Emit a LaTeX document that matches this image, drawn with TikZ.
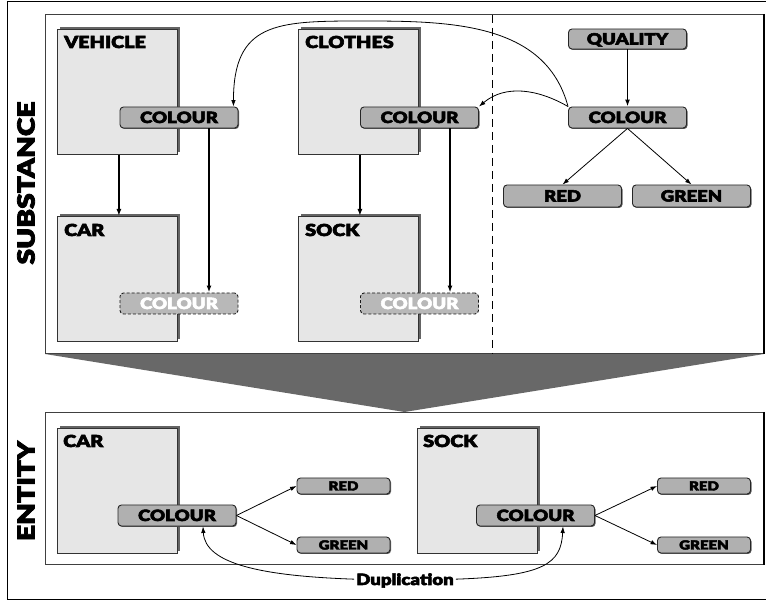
\documentclass[tikz,border=0pt]{standalone}
\usepackage{fontspec}
\usetikzlibrary{arrows.meta,shadows,backgrounds}
\IfFontExistsTF{Lato Black}
  {\newfontfamily\heavy{Lato Black}[FakeStretch=1.2,RawFeature={embolden=3.5}]}
  {\newfontfamily\heavy{Lato}[FakeStretch=1.2,UprightFont={* Bold},
     RawFeature={embolden=4.5}]}
\newcommand\tagfont{\heavy\fontsize{15.5pt}{16pt}\selectfont}
\newcommand\smalltagfont{\heavy\fontsize{12.5pt}{13pt}\selectfont}
\newcommand\titlefont{\heavy\fontsize{16.5pt}{17pt}\selectfont}
\newcommand\sidefont{\heavy\fontsize{23.5pt}{24pt}\selectfont}
\newcommand\dupfont{\heavy\fontsize{15.5pt}{16pt}\selectfont}
\definecolor{boxfill}{RGB}{230,230,230}
\definecolor{tagfill}{RGB}{176,176,176}
\definecolor{ghostfill}{RGB}{184,184,184}
\definecolor{shade}{RGB}{100,100,100}
\definecolor{funnel}{RGB}{104,104,104}
\begin{document}
\begin{tikzpicture}[x=1pt,y=1pt,
  panel/.style={draw=black!75, line width=1pt, inner sep=0pt, anchor=south west},
  classbox/.style={draw=black!80, line width=0.8pt, fill=boxfill, inner sep=0pt,
    minimum width=120pt, minimum height=125pt, anchor=north west,
    drop shadow={shadow xshift=3pt, shadow yshift=2pt, fill=shade, opacity=1}},
  boxlabel/.style={font=\titlefont, anchor=base west, inner sep=0pt},
  tagbase/.style={rounded corners=3.5pt, line width=0.9pt, inner sep=0pt,
    minimum width=118pt, minimum height=21pt, font=\tagfont,
    text height=11pt, text depth=0pt},
  tag/.style={tagbase, draw=black!85, fill=tagfill,
    drop shadow={shadow xshift=1pt, shadow yshift=-1pt, fill=black!65, opacity=1}},
  ghost/.style={tagbase, draw=black!90, fill=ghostfill, text=white,
    dash pattern=on 3pt off 2pt},
  smalltag/.style={tag, minimum width=93pt, minimum height=16pt,
    font=\smalltagfont, text height=9pt},
  bold arrow/.style={line width=1.7pt, -{Latex[length=7pt,width=5pt]}},
  thin arrow/.style={line width=0.8pt, -{Latex[length=6.5pt,width=4.5pt]}},
]
\useasboundingbox (0,0) rectangle (766,602);

% outer frame (its right side lies beyond the page)
\draw[line width=1pt] (766,600) -- (7,600) -- (7,2) -- (766,2);

% the two panels
\node[panel, minimum width=718pt, minimum height=339pt] (subst) at (45,248) {};
\node[panel, minimum width=718pt, minimum height=152pt] (ent) at (45,37) {};
\draw[line width=1.6pt] (subst.north east) -- (subst.south east);
\draw[line width=1.6pt] (ent.north east) -- (ent.south east);

% funnel from the substance panel down to the entity panel
\begin{scope}[on background layer]
  \fill[funnel] (subst.south west) -- (subst.south east) -- (ent.north) -- cycle;
\end{scope}

% side titles
\node[rotate=90, font=\sidefont] (substT) at (26,419) {SUBSTANCE};
\node[rotate=90, font=\sidefont] (entT) at (26,111) {ENTITY};

% divider between classes and qualities
\draw[line width=0.8pt, dash pattern=on 8pt off 5pt] (492,587) -- (492,248);

% class boxes of the substance panel
\node[classbox] (veh) at (57,573) {};
\node[boxlabel] (vehL) at ([shift={(7,-19)}]veh.north west) {VEHICLE};
\node[classbox] (clo) at (298,573) {};
\node[boxlabel] (cloL) at ([shift={(7,-19)}]clo.north west) {CLOTHES};
\node[classbox] (car) at (57,386) {};
\node[boxlabel] (carL) at ([shift={(7,-20)}]car.north west) {CAR};
\node[classbox] (sock) at (298,386) {};
\node[boxlabel] (sockL) at ([shift={(7,-20)}]sock.north west) {SOCK};

% class boxes of the entity panel
\node[classbox] (ecar) at (57,174) {};
\node[boxlabel] (ecarL) at ([shift={(6,-19)}]ecar.north west) {CAR};
\node[classbox] (esock) at (417,174) {};
\node[boxlabel] (esockL) at ([shift={(6,-19)}]esock.north west) {SOCK};

% attribute tags
\node[tag] (vcol) at (179,484.5) {COLOUR};
\node[tag] (ccol) at (419.5,484.5) {COLOUR};
\node[tag, minimum height=20pt] (qual) at (627.5,563) {QUALITY};
\node[tag] (qcol) at (627.5,484.5) {COLOUR};
\node[tag, minimum height=22pt] (red) at (562.5,406) {RED};
\node[tag, minimum height=22pt] (green) at (691.5,406) {GREEN};
\node[ghost] (vgh) at (179,298.5) {COLOUR};
\node[ghost] (cgh) at (419.5,298.5) {COLOUR};

\node[tag] (ecol) at (177,86.5) {COLOUR};
\node[smalltag] (ered) at (343.5,116) {RED};
\node[smalltag] (egreen) at (343.5,57) {GREEN};
\node[tag] (scol) at (535.5,86.5) {COLOUR};
\node[smalltag] (sred) at (704,116) {RED};
\node[smalltag] (sgreen) at (704,57) {GREEN};

\node[font=\dupfont, anchor=base, inner sep=2pt, text depth=0pt] (dup) at (405,17) {Duplication};

% inheritance
\draw[bold arrow] ([xshift=1.5pt]veh.south) -- ([xshift=1.5pt]car.north);
\draw[bold arrow] ([xshift=1.5pt]clo.south) -- ([xshift=1.5pt]sock.north);
\draw[bold arrow] ([xshift=30pt]vcol.south) -- ([xshift=30pt]vgh.north);
\draw[bold arrow] ([xshift=30.5pt]ccol.south) -- ([xshift=30.5pt]cgh.north);

% quality hierarchy
\draw[bold arrow] (qual.south) -- (qcol.north);
\draw[thin arrow] (qcol.south) -- (red.north);
\draw[thin arrow] (qcol.south) -- (green.north);

% quality attached to the classes
\coordinate (arcTop) at (360,581);
\draw[thin arrow] (qcol.north west) to[out=105,in=0] (arcTop)
  to[out=180,in=90,looseness=1.4] ([xshift=-5pt]vcol.north east);
\draw[thin arrow] (qcol.north west) to[out=150,in=40] (ccol.north east);

% entity values
\draw[thin arrow] (ecol.east) -- (ered.west);
\draw[thin arrow] (ecol.east) -- (egreen.west);
\draw[thin arrow] (scol.east) -- (sred.west);
\draw[thin arrow] (scol.east) -- (sgreen.west);

% duplication of the colour attribute
\draw[thin arrow] (dup.west) to[out=178,in=-87,out looseness=1.48,in looseness=0.6]
  ([xshift=26pt]ecol.south);
\draw[thin arrow] (dup.east) to[out=2,in=-93,out looseness=1.9,in looseness=0.8]
  ([xshift=27.5pt]scol.south);
\end{tikzpicture}
\end{document}
